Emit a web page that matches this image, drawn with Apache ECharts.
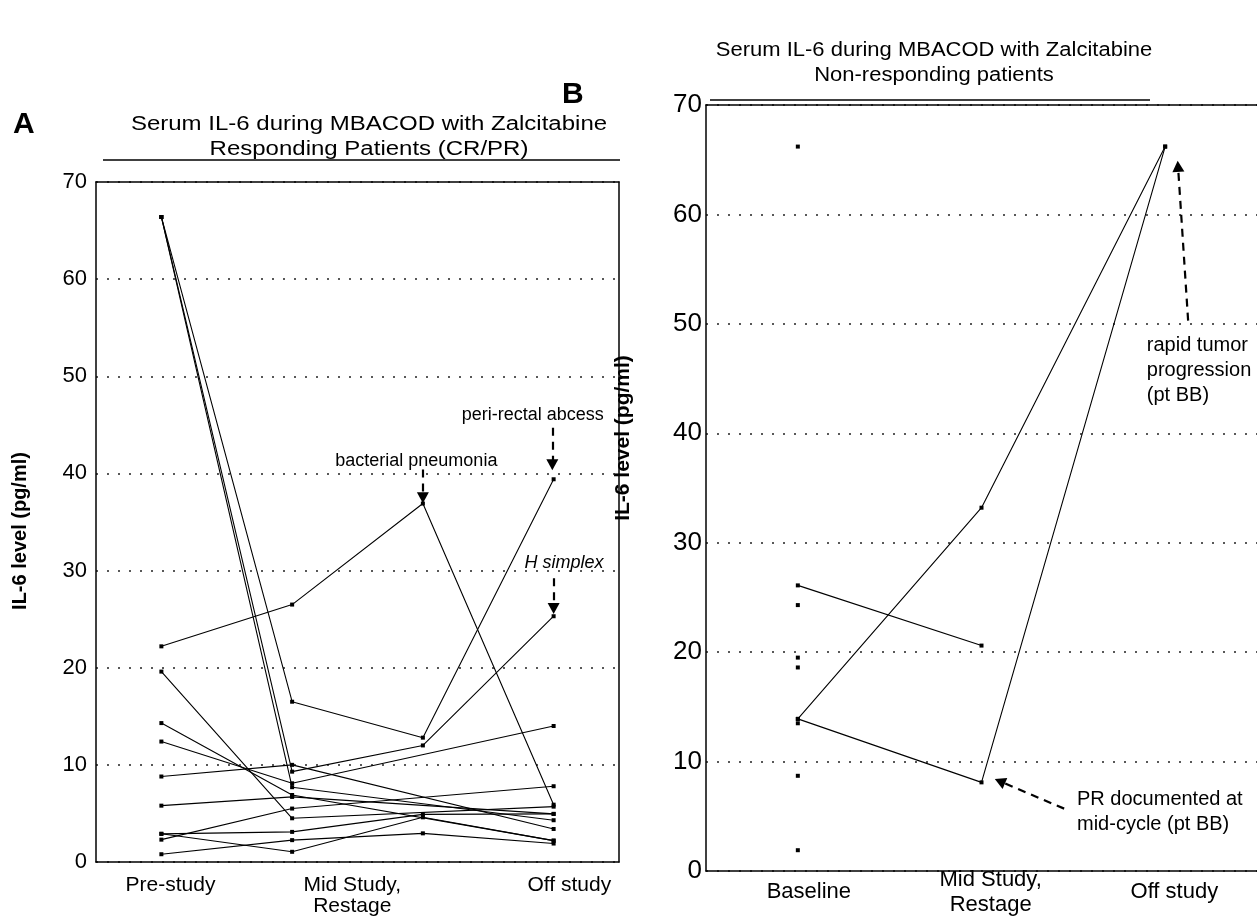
<!DOCTYPE html>
<html>
<head>
<meta charset="utf-8">
<script src="https://cdn.jsdelivr.net/npm/echarts@6/dist/echarts.min.js"></script>
<style>
html,body{margin:0;padding:0;background:#fff;}
#chart{width:1257px;height:917px;}
</style>
</head>
<body>
<div id="chart"></div>
<script>
// Panel A - responding patients, serum IL-6 (pg/ml) at 4 time points, null = no sample
var stepsA = [0, 1, 2, 3];
var patientsA = [
  [22.2, 26.5, 36.9, 5.9],
  [66.4, 16.5, 12.8, 39.4],
  [66.4, 9.3, 12.0, 25.3],
  [66.4, 7.7, null, 4.3],
  [19.6, 4.5, null, 5.7],
  [14.3, 6.9, null, 2.2],
  [12.4, 8.1, null, 14.0],
  [8.8, 10.0, null, 3.4],
  [5.8, 6.7, null, 4.95],
  [2.9, 3.1, 4.9, 4.95],
  [2.9, 1.05, 4.6, 2.2],
  [2.3, 5.5, null, 7.8],
  [0.8, 2.25, 2.95, 1.9]
];
var xLabelsA = ['Pre-study', 'Mid Study,\nRestage', 'Off study'];
var xLabelPosA = [0.07, 1.46, 3.12];

// Panel B - non-responding patients, 3 time points
var stepsB = [0, 1, 2];
var patientsB = [
  [26.1, 20.6, null],
  [13.9, 33.2, 66.2],
  [13.9, 8.1, 66.2]
];
var baselineOnlyB = [66.2, 24.3, 19.5, 18.6, 13.5, 8.7, 1.9];
var xLabelsB = ['Baseline', 'Mid Study,\nRestage', 'Off study'];
var xLabelPosB = [0.06, 1.05, 2.05];

var yTicks = [0, 70, 10]; // min, max, interval

// annotations: text, text anchor [x, y], arrow from -> to
var notesA = [
  {text: 'bacterial pneumonia', at: [1.95, 41.3], from: [2.0, 40.4], to: [2.0, 37.5], align: 'center'},
  {text: 'peri-rectal abcess', at: [2.84, 46.0], from: [2.99, 44.7], to: [2.99, 40.9], align: 'center'},
  {text: 'H simplex', at: [3.08, 30.8], from: [3.0, 29.2], to: [3.0, 26.1], align: 'center', italic: true}
];
var notesB = [
  {text: 'rapid tumor\nprogression\n(pt BB)', at: [1.90, 45.7], from: [2.125, 50.3], to: [2.07, 64.4], align: 'left'},
  {text: 'PR documented at\nmid-cycle (pt BB)', at: [1.52, 5.4], from: [1.45, 5.7], to: [1.10, 8.2], align: 'left'}
];

var FONT = 'Liberation Sans, Arial, Helvetica, sans-serif';
var chart = echarts.init(document.getElementById('chart'));

function toPoints(steps, vals) {
  var pts = [];
  vals.forEach(function (v, i) { if (v != null) pts.push([steps[i], v]); });
  return pts;
}

function pickLabel(labels, pos) {
  return function (v) {
    var best = 0;
    pos.forEach(function (p, i) { if (Math.abs(p - v) < Math.abs(pos[best] - v)) best = i; });
    return labels[best];
  };
}

function valueY(gi, pos, labelSize, labelMargin) {
  return {
    type: 'value', gridIndex: gi, position: pos,
    min: yTicks[0], max: yTicks[1], interval: yTicks[2],
    axisLine: {show: true, onZero: false, lineStyle: {color: '#000', width: 1.5}},
    axisTick: {show: false},
    axisLabel: {show: pos === 'left', color: '#000', fontSize: labelSize, fontFamily: FONT, margin: labelMargin},
    splitLine: {show: pos === 'left', lineStyle: {color: '#222', type: [2, 9], width: 1.5}}
  };
}

function noteSeries(notes, xi, yi, size) {
  return {
    type: 'scatter', xAxisIndex: xi, yAxisIndex: yi, symbolSize: 0, silent: true, z: 5,
    itemStyle: {opacity: 1},
    data: notes.map(function (n) {
      return {
        value: n.at,
        label: {
          show: true, formatter: n.text, color: '#000', opacity: 1, fontSize: size, fontFamily: FONT,
          fontStyle: n.italic ? 'italic' : 'normal', lineHeight: size + 5,
          position: n.align === 'left' ? 'right' : 'inside', distance: 0, align: n.align
        }
      };
    }),
    markLine: {
      silent: true, symbol: ['none', 'triangle'], symbolSize: [12, 11],
      lineStyle: {color: '#000', width: 2.2, type: [8, 6], opacity: 1},
      label: {show: false},
      data: notes.map(function (n) { return [{coord: n.from}, {coord: n.to}]; })
    }
  };
}

function titleText(str, x, y, size, sx) {
  return {type: 'text', x: x, y: y, scaleX: sx,
    style: {text: str, fontSize: size, fontFamily: FONT, fill: '#000', align: 'center', verticalAlign: 'middle'}};
}

var series = [];
patientsA.forEach(function (p) {
  series.push({
    type: 'line', xAxisIndex: 0, yAxisIndex: 0, data: toPoints(stepsA, p),
    symbol: 'rect', symbolSize: 4, showSymbol: true, silent: true,
    lineStyle: {color: '#000', width: 1.1}, itemStyle: {color: '#000'}
  });
});
patientsB.forEach(function (p) {
  series.push({
    type: 'line', xAxisIndex: 2, yAxisIndex: 2, data: toPoints(stepsB, p),
    symbol: 'rect', symbolSize: 4, showSymbol: true, silent: true,
    lineStyle: {color: '#000', width: 1.1}, itemStyle: {color: '#000'}
  });
});
series.push({
  type: 'scatter', xAxisIndex: 2, yAxisIndex: 2, symbol: 'rect', symbolSize: 4, silent: true,
  itemStyle: {color: '#000', opacity: 1},
  data: baselineOnlyB.map(function (v) { return [stepsB[0], v]; })
});
series.push(noteSeries(notesA, 0, 0, 18));
series.push(noteSeries(notesB, 2, 2, 20));

var option = {
  animation: false,
  backgroundColor: '#fff',
  grid: [
    {left: 96, top: 182, width: 523, height: 688},
    {left: 706, top: 105, width: 552, height: 767}
  ],
  xAxis: [
    {
      type: 'value', gridIndex: 0, min: -0.5, max: 3.5,
      axisLine: {onZero: false, lineStyle: {color: '#000', width: 1.5}},
      axisTick: {show: false}, splitLine: {show: false},
      axisLabel: {customValues: xLabelPosA, formatter: pickLabel(xLabelsA, xLabelPosA),
        color: '#000', fontSize: 21, fontFamily: FONT, margin: 13, lineHeight: 21}
    },
    {
      type: 'value', gridIndex: 0, position: 'top', min: -0.5, max: 3.5,
      axisLine: {onZero: false, lineStyle: {color: '#000', width: 1.5}},
      axisTick: {show: false}, axisLabel: {show: false}, splitLine: {show: false}
    },
    {
      type: 'value', gridIndex: 1, min: -0.5, max: 2.5,
      axisLine: {onZero: false, lineStyle: {color: '#000', width: 1.5}},
      axisTick: {show: false}, splitLine: {show: false},
      axisLabel: {customValues: xLabelPosB, formatter: pickLabel(xLabelsB, xLabelPosB),
        color: '#000', fontSize: 22, fontFamily: FONT, margin: 21, lineHeight: 25, verticalAlign: 'middle'}
    },
    {
      type: 'value', gridIndex: 1, position: 'top', min: -0.5, max: 2.5,
      axisLine: {onZero: false, lineStyle: {color: '#000', width: 1.5}},
      axisTick: {show: false}, axisLabel: {show: false}, splitLine: {show: false}
    }
  ],
  yAxis: [
    valueY(0, 'left', 22, 9),
    valueY(0, 'right', 22, 8),
    valueY(1, 'left', 26, 4)
  ],
  graphic: [
    {type: 'text', left: 13, top: 110, style: {text: 'A', fontSize: 30, fontWeight: 'bold', fontFamily: FONT, fill: '#000'}},
    titleText('Serum IL-6 during MBACOD with Zalcitabine', 369, 124, 20, 1.2),
    titleText('Responding Patients (CR/PR)', 369, 149, 20, 1.2),
    {type: 'line', shape: {x1: 103, y1: 160, x2: 620, y2: 160}, style: {stroke: '#000', lineWidth: 1.3}},
    {type: 'text', left: 562, top: 80, style: {text: 'B', fontSize: 30, fontWeight: 'bold', fontFamily: FONT, fill: '#000'}},
    titleText('Serum IL-6 during MBACOD with Zalcitabine', 934, 50, 20, 1.1),
    titleText('Non-responding patients', 934, 75, 20, 1.1),
    {type: 'line', shape: {x1: 710, y1: 100, x2: 1150, y2: 100}, style: {stroke: '#000', lineWidth: 1.3}},
    {type: 'text', x: 20, y: 531, rotation: Math.PI / 2, style: {text: 'IL-6 level (pg/ml)', fontSize: 20, fontWeight: 'bold', fontFamily: FONT, fill: '#000', align: 'center', verticalAlign: 'middle'}},
    {type: 'text', x: 623, y: 438, rotation: Math.PI / 2, style: {text: 'IL-6 level (pg/ml)', fontSize: 21, fontWeight: 'bold', fontFamily: FONT, fill: '#000', align: 'center', verticalAlign: 'middle'}}
  ],
  series: series
};
chart.setOption(option);
</script>
</body>
</html>
